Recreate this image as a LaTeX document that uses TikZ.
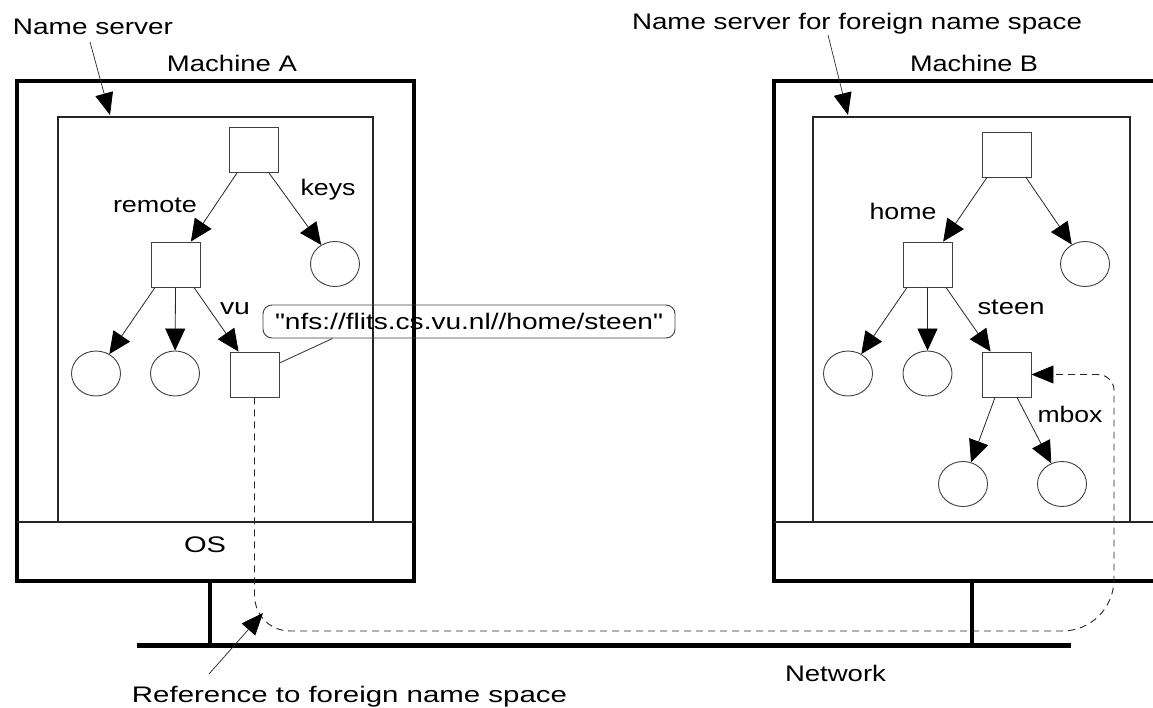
\documentclass[tikz,border=0pt]{standalone}
\usepackage{fontspec}
\setmainfont{Liberation Sans}[Ligatures=TeXOff]
\usetikzlibrary{arrows.meta,shapes.geometric}
\newcommand{\wt}[2]{\resizebox{#1}{\height}{#2}}
\begin{document}
\begin{tikzpicture}[x=1pt,y=-1pt,
  lbl/.style={inner sep=0pt, anchor=base, font=\fontsize{22.5}{27}\selectfont},
  sq/.style={draw=black!75, line width=0.9pt, minimum width=49pt, minimum height=45pt, inner sep=0pt},
  leaf/.style={ellipse, draw=black!75, line width=0.9pt, minimum width=49pt, minimum height=45pt, inner sep=0pt},
  arr/.style={draw=black!85, line width=0.8pt, -{Triangle[length=22pt,width=20pt,color=black]}},
  thinarr/.style={draw=black!85, line width=0.7pt, -{Triangle[length=22pt,width=18pt,color=black]}},
  machine/.style={draw=black, line width=3.5pt},
  server/.style={draw=black!85, line width=1.2pt},
  oline/.style={draw=black!85, line width=1.2pt},
  net/.style={draw=black, line width=5pt},
  leg/.style={draw=black, line width=3.5pt},
  refline/.style={draw=black!85, line width=0.9pt, dash pattern=on 7pt off 5pt, -{Triangle[length=22pt,width=18pt,color=black]}}
]
\useasboundingbox (0,0) rectangle (1153,708);
\fill[white] (0,0) rectangle (1153,708);

% Machine A
\draw[machine] (17,81) rectangle (414,581);
\draw[server] (58,117) rectangle (373,522);
\draw[oline] (17,522) -- (414,522);
% Machine B (cut at right edge)
\draw[machine] (1160,81) -- (774,81) -- (774,581) -- (1160,581);
\draw[server] (813,117) rectangle (1130,522);
\draw[oline] (774,522) -- (1160,522);

% network
\draw[leg] (210,581) -- (210,645);
\draw[leg] (972,581) -- (972,645);
\draw[net] (137,645) -- (1071,645);

% labels
\node[lbl] (tNS) at (93,35) {\wt{160pt}{Name server}};
\node[lbl] (tNSB) at (857,30) {\wt{450pt}{Name server for foreign name space}};
\node[lbl] (tMA) at (232,72) {\wt{130pt}{Machine A}};
\node[lbl] (tMB) at (974,72) {\wt{128pt}{Machine B}};
\node[lbl] (tOS) at (205,552) {\wt{42pt}{OS}};
\node[lbl] (tNet) at (835.5,681) {\wt{101pt}{Network}};
\node[lbl] (tRef) at (349.5,702) {\wt{435pt}{Reference to foreign name space}};

% tree A
\node[sq] (rootA) at (254,150) {};
\node[sq] (remA) at (175.5,264.5) {};
\node[leaf] (keysA) at (335,264) {};
\node[leaf] (la1) at (96,373.5) {};
\node[leaf] (la2) at (175,373.5) {};
\node[sq] (vuA) at (254.5,374.5) {};
\node[lbl] (tremote) at (155,213) {\wt{84pt}{remote}};
\node[lbl] (tkeys) at (328,196) {\wt{55pt}{keys}};
\node[lbl] (tvu) at (235,315) {\wt{30pt}{vu}};

\draw[arr] ([xshift=-17pt]rootA.south) -- (remA);
\draw[arr] ([xshift=15pt]rootA.south) -- (keysA);
\draw[arr] ([xshift=-20.5pt]remA.south) -- (la1);
\draw[arr] (remA.south) -- (la2);
\draw[arr] ([xshift=18.5pt]remA.south) -- (vuA);

% callout
\node[draw=black!75, line width=0.9pt, rounded corners=9pt, minimum width=412pt, minimum height=33pt, inner sep=0pt, font=\fontsize{22.5}{27}\selectfont] (nfs) at (469,321.5) {\wt{388pt}{"nfs://flits.cs.vu.nl//home/steen"}};
\draw[draw=black!75, line width=0.9pt] ([yshift=11.5pt]vuA.east) -- ([xshift=70pt]nfs.south west);

% tree B
\node[sq] (rootB) at (1006.5,154.5) {};
\node[sq] (homeB) at (927.5,264.5) {};
\node[leaf] (rb) at (1085,264) {};
\node[leaf] (lb1) at (848,373.5) {};
\node[leaf] (lb2) at (927.5,373.5) {};
\node[sq] (steenB) at (1006.5,374.5) {};
\node[leaf] (mb1) at (963,484) {};
\node[leaf] (mb2) at (1062,484) {};
\node[lbl] (thome) at (903,220) {\wt{67pt}{home}};
\node[lbl] (tsteen) at (1011,315) {\wt{67pt}{steen}};
\node[lbl] (tmbox) at (1070,422) {\wt{65pt}{mbox}};

\draw[arr] ([xshift=-19.5pt]rootB.south) -- (homeB);
\draw[arr] ([xshift=19.5pt]rootB.south) -- (rb);
\draw[arr] ([xshift=-20.5pt]homeB.south) -- (lb1);
\draw[arr] (homeB.south) -- (lb2);
\draw[arr] ([xshift=18.5pt]homeB.south) -- (steenB);
\draw[arr] ([xshift=-11.5pt]steenB.south) -- (mb1);
\draw[arr] ([xshift=10.5pt]steenB.south) -- (mb2);

% name server pointers
\coordinate (nsA0) at (90,42);
\coordinate (nsA1) at (110,115);
\coordinate (nsB0) at (828,35);
\coordinate (nsB1) at (848,115);
\draw[thinarr] (nsA0) -- (nsA1);
\draw[thinarr] (nsB0) -- (nsB1);

% reference (dashed)
\draw[refline] (vuA.south) -- (254.5,595) .. controls (254.5,615) and (270,631) .. (290,631)
  -- (1062,631) .. controls (1091,631) and (1114,608) .. (1114,579)
  -- (1114,390) .. controls (1114,381.5) and (1106.5,374.5) .. (1098,374.5) -- (steenB.east);

\coordinate (ref0) at (209,674);
\coordinate (ref1) at (263,613);
\draw[thinarr] (ref0) -- (ref1);
\end{tikzpicture}
\end{document}
